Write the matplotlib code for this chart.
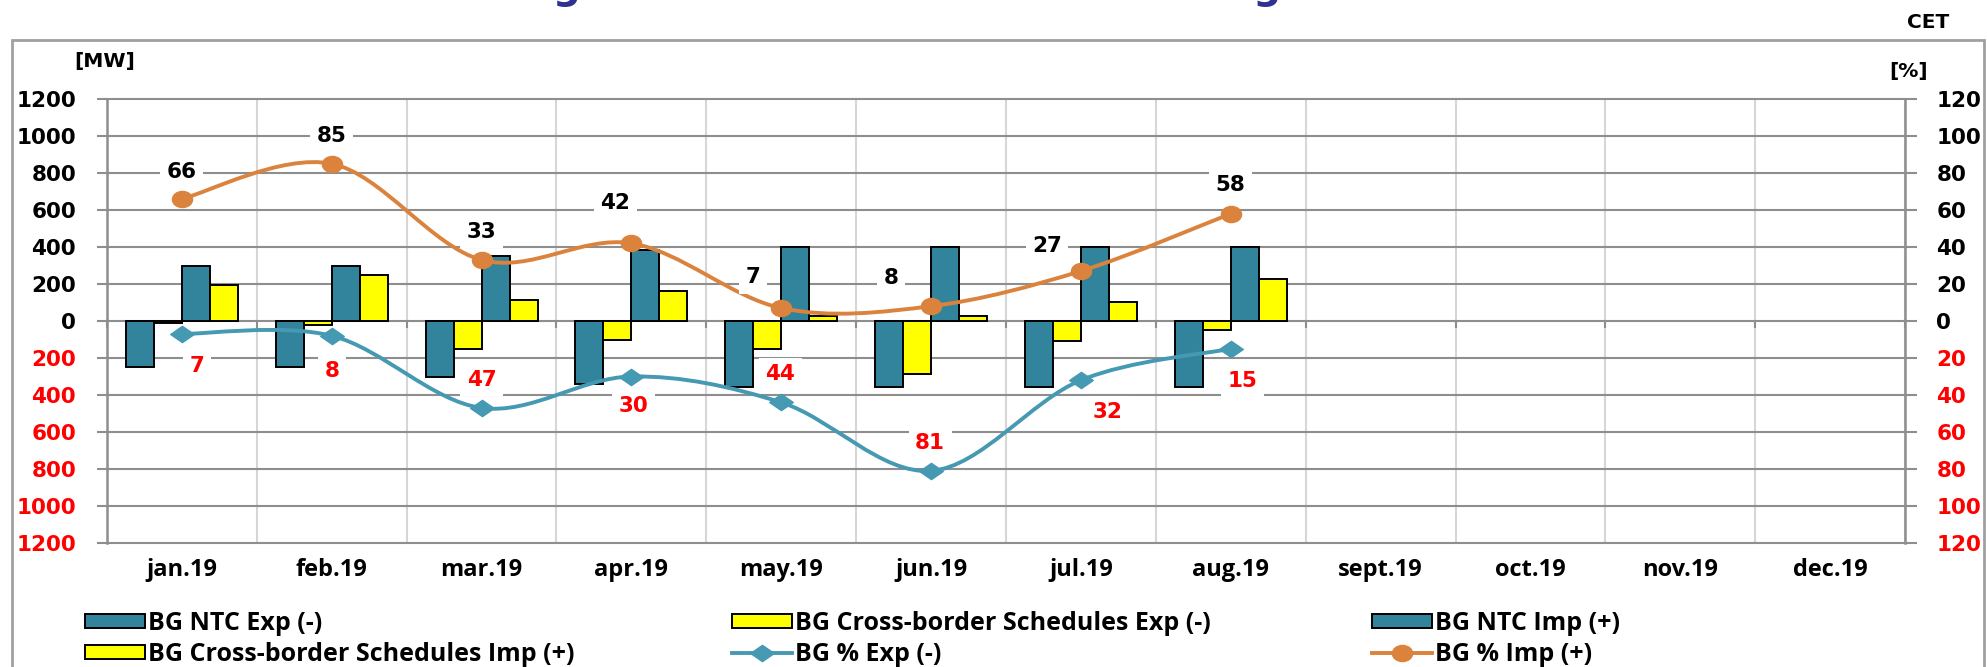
import numpy as np
import matplotlib
matplotlib.use("Agg")
import matplotlib.pyplot as plt
from matplotlib.path import Path
from matplotlib.patches import PathPatch, Rectangle, Patch
from matplotlib.lines import Line2D
from matplotlib.ticker import FixedLocator
from matplotlib.transforms import blended_transform_factory

# ---- data ---------------------------------------------------------------
months = ["jan.19", "feb.19", "mar.19", "apr.19", "may.19", "jun.19",
          "jul.19", "aug.19", "sept.19", "oct.19", "nov.19", "dec.19"]
ntc_exp = [-250, -250, -300, -340, -355, -355, -355, -355]
sched_exp = [-10, -20, -150, -100, -150, -285, -110, -50]
ntc_imp = [300, 300, 350, 385, 400, 400, 400, 400]
sched_imp = [195, 250, 115, 160, 25, 25, 105, 225]
pct_imp = [66, 85, 33, 42, 7, 8, 27, 58]
pct_exp = [7, 8, 47, 30, 44, 81, 32, 15]
mw_ticks = list(range(-1200, 1201, 200))
pct_ticks = list(range(-120, 121, 20))

# ---- style --------------------------------------------------------------
W, H = 1987, 667
TEAL = "#31849B"
YELLOW = "#FFFF00"
ORANGE = "#DB833C"
LINE_TEAL = "#4699B2"
GRID = "#8E8E8E"
VGRID = "#D6D6D6"
RED = "#FF0000"
NUM_FONT = "DejaVu Sans"
TXT_FONT = "Open Sans"
NUM_SIZE = 15.5
LBL_SIZE = 15.5
TXT_SIZE = 17

# label offsets in pixels (dx, dy up)
imp_off = [(0, 27), (0, 28), (0, 28), (-16, 40), (-28, 31), (-40, 28), (-34, 25), (0, 29)]
exp_off = [(15, -32), (0, -35), (0, 28), (2, -30), (-1, 28), (-1, 28), (27, -32), (12, -32)]


def smooth_path(xs, ys):
    """Cubic Bezier path through the points (Catmull-Rom style smoothing)."""
    pts = np.column_stack([xs, ys]).astype(float)
    n = len(pts)
    verts = [pts[0]]
    codes = [Path.MOVETO]
    for i in range(n - 1):
        p0 = pts[max(i - 1, 0)]
        p1 = pts[i]
        p2 = pts[i + 1]
        p3 = pts[min(i + 2, n - 1)]
        c1 = p1 + (p2 - p0) / 6.0
        c2 = p2 - (p3 - p1) / 6.0
        verts += [c1, c2, p2]
        codes += [Path.CURVE4] * 3
    return Path(verts, codes)


circ = Path.unit_circle()
ellipse_marker = Path(circ.vertices * np.array([1.25, 1.0]), circ.codes)
diamond_marker = Path([(0, 1), (1.45, 0), (0, -1), (-1.45, 0), (0, 1)],
                      [Path.MOVETO, Path.LINETO, Path.LINETO, Path.LINETO, Path.CLOSEPOLY])

fig = plt.figure(figsize=(W / 100, H / 100), dpi=100)
fig.patch.set_facecolor("white")

# outer frame
fig.add_artist(Rectangle((12 / W, -0.1), (1984 - 12) / W, (H - 40) / H + 0.1,
                         transform=fig.transFigure, fill=False, ec="#A0A0A0", lw=2.0))

ax = fig.add_axes([107 / W, (H - 543) / H, 1798 / W, 444 / H])
ax.set_xlim(-0.5, len(months) - 0.5)
ax.set_ylim(-1200, 1200)

# bars
x = np.arange(len(ntc_exp))
bw = 0.187
ekw = dict(edgecolor="black", linewidth=1.4, zorder=3)
ax.bar(x - 1.5 * bw, ntc_exp, bw, color=TEAL, **ekw)
ax.bar(x - 0.5 * bw, sched_exp, bw, color=YELLOW, **ekw)
ax.bar(x + 0.5 * bw, ntc_imp, bw, color=TEAL, **ekw)
ax.bar(x + 1.5 * bw, sched_imp, bw, color=YELLOW, **ekw)

# axes & grids
ax.set_axisbelow(True)
ax.yaxis.set_major_locator(FixedLocator(mw_ticks))
ax.set_yticklabels([str(abs(t)) for t in mw_ticks])
for t, lab in zip(mw_ticks, ax.get_yticklabels()):
    lab.set_color(RED if t < 0 else "black")
    lab.set_fontfamily(NUM_FONT)
    lab.set_fontweight("bold")
    lab.set_fontsize(NUM_SIZE)
ax.tick_params(axis="y", direction="out", length=7.2, width=1.5, color=GRID, pad=15)
ax.grid(axis="y", color=GRID, lw=1.5)
for gl in ax.get_ygridlines():
    gl.set_clip_on(False)

bounds = np.arange(-0.5, len(months), 1.0)
ax.xaxis.set_major_locator(FixedLocator(bounds))
ax.set_xticklabels([])
ax.spines["bottom"].set_position(("data", 0))
ax.spines["bottom"].set_visible(False)
ax.tick_params(axis="x", direction="out", length=5, width=1.5, color=GRID)
ax.grid(axis="x", color=VGRID, lw=1.5)
for s in ("top", "right"):
    ax.spines[s].set_visible(False)
ax.spines["left"].set_color(GRID)
ax.spines["left"].set_linewidth(1.8)

trans = blended_transform_factory(ax.transData, ax.transAxes)
for i, m in enumerate(months):
    ax.text(i, -27 / 444, m, transform=trans, ha="center", va="center",
            fontsize=TXT_SIZE, fontweight="bold", family=TXT_FONT)

# secondary axis with percentages
ax2 = ax.twinx()
ax2.set_ylim(-120, 120)
ax2.yaxis.set_major_locator(FixedLocator(pct_ticks))
ax2.set_yticklabels([str(abs(t)) for t in pct_ticks])
for t, lab in zip(pct_ticks, ax2.get_yticklabels()):
    lab.set_color(RED if t < 0 else "black")
    lab.set_fontfamily(NUM_FONT)
    lab.set_fontweight("bold")
    lab.set_fontsize(NUM_SIZE)
ax2.tick_params(axis="y", direction="out", length=8.6, width=1.5, color=GRID, pad=14)
for s in ("top", "left", "bottom"):
    ax2.spines[s].set_visible(False)
ax2.spines["right"].set_color(GRID)
ax2.spines["right"].set_linewidth(1.8)

xl = np.arange(len(pct_imp))
exp_vals = [-v for v in pct_exp]
ax2.add_patch(PathPatch(smooth_path(xl, pct_imp), fill=False, ec=ORANGE, lw=2.8,
                        capstyle="round", zorder=4))
ax2.add_patch(PathPatch(smooth_path(xl, exp_vals), fill=False, ec=LINE_TEAL, lw=2.8,
                        capstyle="round", zorder=4))
ax2.plot(xl, pct_imp, ls="none", marker=ellipse_marker, ms=14.5, color=ORANGE, zorder=5)
ax2.plot(xl, exp_vals, ls="none", marker=diamond_marker, ms=17, color=LINE_TEAL, zorder=5)

box = dict(boxstyle="square,pad=0.3", fc="white", ec="none")
for i, v in enumerate(pct_imp):
    ax2.annotate(str(v), (i, v), xytext=imp_off[i], textcoords="offset pixels",
                 ha="center", va="center", fontsize=LBL_SIZE, fontweight="bold",
                 family=NUM_FONT, color="black", bbox=box, zorder=6)
for i, v in enumerate(pct_exp):
    ax2.annotate(str(v), (i, -v), xytext=exp_off[i], textcoords="offset pixels",
                 ha="center", va="center", fontsize=LBL_SIZE, fontweight="bold",
                 family=NUM_FONT, color=RED, bbox=box, zorder=6)

# unit labels and title
fig.text(105 / W, 1 - 62 / H, "[MW]", ha="center", va="center", fontsize=14.5,
         fontweight="bold", family=NUM_FONT)
fig.text(1909 / W, 1 - 71 / H, "[%]", ha="center", va="center", fontsize=14.5,
         fontweight="bold", family=NUM_FONT)
fig.text(1928 / W, 1 - 22 / H, "CET", ha="center", va="center", fontsize=14.5,
         fontweight="bold", family=NUM_FONT)
fig.text(1013 / W, 1 + 1 / H, "Usage of BG NTC on Romanian - Bulgarian border",
         ha="center", va="baseline", fontsize=28, fontweight="bold",
         family=NUM_FONT, color="#2E3192")

# legend, three columns of two rows
h_ntc_exp = Patch(facecolor=TEAL, edgecolor="black", lw=1.4)
h_sch_exp = Patch(facecolor=YELLOW, edgecolor="black", lw=1.4)
h_ntc_imp = Patch(facecolor=TEAL, edgecolor="black", lw=1.4)
h_sch_imp = Patch(facecolor=YELLOW, edgecolor="black", lw=1.4)
h_pexp = Line2D([], [], color=LINE_TEAL, lw=2.8, marker=diamond_marker, ms=17)
h_pimp = Line2D([], [], color=ORANGE, lw=2.8, marker=ellipse_marker, ms=14.5)
columns = [
    (85, [h_ntc_exp, h_sch_imp], ["BG NTC Exp (-)", "BG Cross-border Schedules Imp (+)"]),
    (732, [h_sch_exp, h_pexp], ["BG Cross-border Schedules Exp (-)", "BG % Exp (-)"]),
    (1372, [h_ntc_imp, h_pimp], ["BG NTC Imp (+)", "BG % Imp (+)"]),
]
fs_px = 18 * 100 / 72
prop = dict(family=TXT_FONT, weight="bold", size=18)
for xpx, hs, ls in columns:
    fig.legend(hs, ls, loc="center left", bbox_to_anchor=(xpx / W, 1 - 639 / H),
               frameon=False, prop=prop, handlelength=60 / fs_px,
               handleheight=12 / fs_px, handletextpad=3 / fs_px,
               labelspacing=0.22, borderpad=0, borderaxespad=0)

fig.savefig("out.png", dpi=100, facecolor="white")
